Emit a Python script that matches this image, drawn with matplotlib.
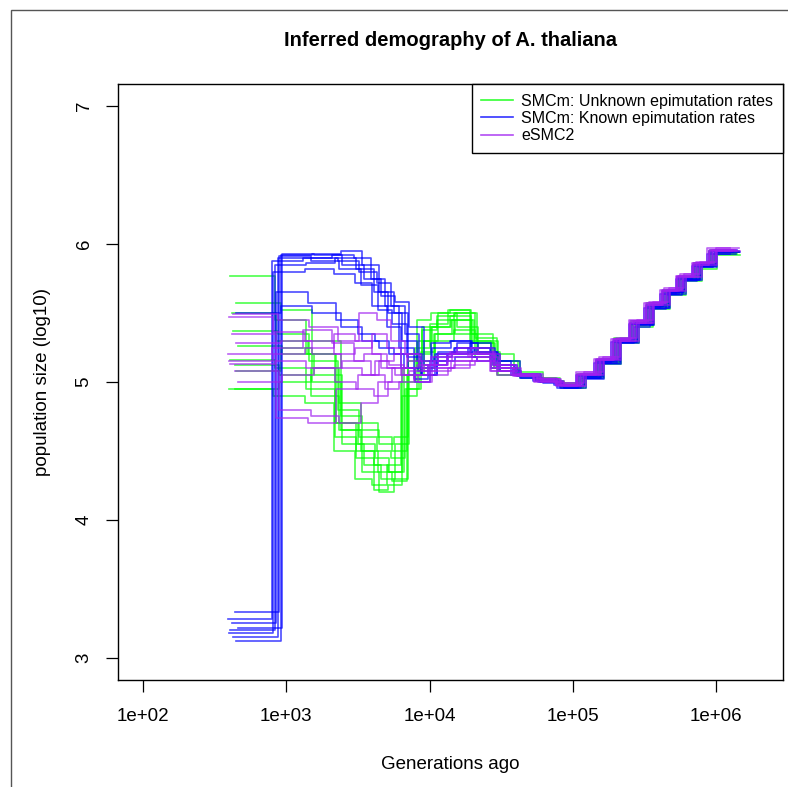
import matplotlib.pyplot as plt
from matplotlib.patches import Rectangle
import numpy as np

plt.rcParams['font.family'] = ['Liberation Sans', 'DejaVu Sans']

# time window boundaries (log10 generations ago)
breaks_log10 = [2.62, 2.93, 3.15, 3.35, 3.50, 3.62, 3.72, 3.82, 3.92, 4.02, 4.15, 4.30, 4.45,
                4.60, 4.75, 4.90, 5.05, 5.18, 5.30, 5.42, 5.53, 5.64, 5.75, 5.86, 5.97, 6.13]

# SMCm: unknown epimutation rates (log10 Ne per window)
green_runs = [
    [5.77, 5.45, 5.20, 4.70, 4.45, 4.22, 4.25, 5.10, 5.45, 5.50, 5.52, 5.35, 5.20, 5.06, 5.02, 4.98, 5.05, 5.16, 5.30, 5.42, 5.55, 5.66, 5.75, 5.85, 5.95],
    [5.57, 5.52, 5.30, 4.65, 4.35, 4.20, 4.30, 5.20, 5.40, 5.48, 5.50, 5.30, 5.15, 5.05, 5.00, 4.97, 5.04, 5.14, 5.29, 5.40, 5.54, 5.64, 5.74, 5.84, 5.94],
    [5.37, 5.35, 5.15, 4.80, 4.60, 4.50, 4.45, 4.95, 5.15, 5.35, 5.45, 5.28, 5.10, 5.04, 5.03, 4.99, 5.06, 5.15, 5.31, 5.43, 5.56, 5.65, 5.76, 5.83, 5.93],
    [5.26, 5.20, 5.05, 4.55, 4.40, 4.30, 4.55, 5.05, 5.30, 5.50, 5.40, 5.22, 5.08, 5.07, 5.01, 4.96, 5.03, 5.13, 5.28, 5.41, 5.53, 5.63, 5.73, 5.82, 5.92],
    [5.16, 5.10, 4.95, 4.60, 4.50, 4.40, 4.35, 4.90, 5.20, 5.40, 5.48, 5.25, 5.12, 5.05, 5.02, 4.98, 5.05, 5.17, 5.32, 5.44, 5.57, 5.67, 5.77, 5.86, 5.96],
    [5.08, 5.25, 5.00, 4.75, 4.65, 4.55, 4.60, 5.15, 5.38, 5.45, 5.35, 5.20, 5.05, 5.03, 5.00, 4.97, 5.04, 5.15, 5.30, 5.42, 5.55, 5.65, 5.75, 5.84, 5.94],
    [4.95, 4.90, 4.85, 4.50, 4.30, 4.25, 4.40, 5.00, 5.25, 5.42, 5.52, 5.30, 5.10, 5.06, 5.03, 4.99, 5.06, 5.16, 5.29, 5.41, 5.54, 5.64, 5.74, 5.85, 5.95],
    [4.95, 5.00, 5.10, 4.85, 4.70, 4.60, 4.50, 5.05, 5.10, 5.30, 5.38, 5.18, 5.05, 5.04, 5.01, 4.96, 5.03, 5.14, 5.30, 5.43, 5.55, 5.66, 5.76, 5.86, 5.94],
    [5.50, 5.30, 5.20, 4.70, 4.55, 4.45, 4.35, 5.10, 5.30, 5.40, 5.45, 5.28, 5.10, 5.05, 5.02, 4.98, 5.05, 5.15, 5.31, 5.42, 5.55, 5.65, 5.75, 5.84, 5.95],
    [5.12, 5.05, 4.90, 4.65, 4.50, 4.35, 4.28, 4.95, 5.22, 5.35, 5.50, 5.32, 5.15, 5.06, 5.01, 4.97, 5.04, 5.16, 5.30, 5.42, 5.56, 5.64, 5.75, 5.85, 5.93],
]
green_shift = [-0.01, 0.03, 0.01, 0.04, -0.01, 0.03, -0.02, 0.02, 0.00, 0.02]

# SMCm: known epimutation rates
blue_runs = [
    [3.12, 5.92, 5.93, 5.95, 5.85, 5.65, 5.50, 5.20, 5.05, 5.20, 5.25, 5.22, 5.15, 5.06, 5.01, 4.97, 5.04, 5.15, 5.29, 5.42, 5.55, 5.65, 5.74, 5.84, 5.94],
    [3.15, 5.90, 5.90, 5.88, 5.80, 5.72, 5.55, 5.35, 5.10, 5.18, 5.22, 5.25, 5.12, 5.04, 5.00, 4.96, 5.03, 5.14, 5.28, 5.40, 5.53, 5.63, 5.73, 5.83, 5.93],
    [3.18, 5.80, 5.82, 5.78, 5.72, 5.55, 5.40, 5.10, 5.00, 5.15, 5.20, 5.28, 5.10, 5.05, 5.02, 4.98, 5.05, 5.16, 5.30, 5.43, 5.56, 5.66, 5.76, 5.85, 5.95],
    [3.22, 5.93, 5.92, 5.85, 5.75, 5.62, 5.58, 5.40, 5.12, 5.22, 5.28, 5.20, 5.08, 5.03, 4.99, 4.96, 5.02, 5.13, 5.28, 5.41, 5.54, 5.64, 5.74, 5.83, 5.94],
    [3.25, 5.65, 5.57, 5.45, 5.35, 5.30, 5.20, 5.10, 5.08, 5.25, 5.30, 5.18, 5.12, 5.06, 5.02, 4.97, 5.04, 5.15, 5.30, 5.42, 5.55, 5.65, 5.75, 5.85, 5.95],
    [3.28, 5.88, 5.90, 5.92, 5.90, 5.75, 5.55, 5.25, 5.02, 5.12, 5.20, 5.25, 5.15, 5.05, 5.01, 4.98, 5.05, 5.14, 5.29, 5.42, 5.54, 5.64, 5.75, 5.84, 5.93],
    [3.33, 5.91, 5.88, 5.82, 5.70, 5.52, 5.42, 5.18, 5.05, 5.20, 5.25, 5.22, 5.10, 5.04, 5.00, 4.97, 5.03, 5.16, 5.31, 5.43, 5.56, 5.65, 5.74, 5.85, 5.96],
    [3.20, 5.85, 5.86, 5.90, 5.82, 5.65, 5.50, 5.30, 5.15, 5.28, 5.30, 5.20, 5.12, 5.05, 5.01, 4.96, 5.04, 5.15, 5.30, 5.42, 5.55, 5.64, 5.76, 5.84, 5.94],
    [5.50, 5.55, 5.50, 5.40, 5.30, 5.25, 5.20, 5.10, 5.05, 5.15, 5.18, 5.15, 5.08, 5.03, 5.00, 4.97, 5.03, 5.14, 5.29, 5.41, 5.54, 5.65, 5.75, 5.85, 5.95],
]
blue_shift = [0.03, 0.01, -0.02, 0.04, 0.00, -0.03, 0.02, -0.01, 0.03]

# eSMC2
purple_runs = [
    [5.49, 5.45, 5.40, 5.30, 5.50, 5.45, 5.30, 5.20, 5.10, 5.15, 5.20, 5.22, 5.12, 5.06, 5.02, 4.98, 5.06, 5.17, 5.31, 5.44, 5.57, 5.67, 5.77, 5.86, 5.96],
    [5.47, 5.36, 5.30, 5.20, 5.25, 5.35, 5.25, 5.10, 5.05, 5.12, 5.18, 5.20, 5.10, 5.05, 5.01, 4.97, 5.05, 5.16, 5.30, 5.43, 5.56, 5.66, 5.76, 5.85, 5.95],
    [5.28, 5.30, 5.20, 5.10, 5.05, 5.15, 5.20, 5.15, 5.08, 5.10, 5.15, 5.18, 5.08, 5.04, 5.00, 4.99, 5.07, 5.18, 5.32, 5.45, 5.58, 5.68, 5.78, 5.87, 5.97],
    [5.13, 5.15, 5.10, 5.00, 4.95, 4.90, 5.00, 5.10, 5.12, 5.18, 5.22, 5.25, 5.12, 5.06, 5.03, 4.98, 5.06, 5.16, 5.31, 5.44, 5.56, 5.66, 5.77, 5.86, 5.96],
    [5.08, 4.80, 4.75, 4.70, 4.85, 5.00, 5.10, 5.20, 5.15, 5.10, 5.12, 5.15, 5.05, 5.05, 5.02, 4.97, 5.05, 5.17, 5.30, 5.43, 5.57, 5.67, 5.76, 5.86, 5.95],
    [5.35, 4.74, 4.70, 4.95, 5.05, 5.15, 5.12, 5.05, 5.00, 5.08, 5.15, 5.20, 5.10, 5.04, 5.01, 4.98, 5.06, 5.18, 5.32, 5.44, 5.58, 5.68, 5.78, 5.87, 5.96],
    [5.20, 5.25, 5.38, 5.28, 5.15, 5.05, 4.95, 5.00, 5.05, 5.12, 5.20, 5.18, 5.08, 5.05, 5.02, 4.99, 5.07, 5.17, 5.31, 5.45, 5.57, 5.67, 5.77, 5.86, 5.97],
    [5.00, 5.05, 5.10, 5.15, 5.20, 5.10, 5.05, 5.08, 5.12, 5.20, 5.25, 5.20, 5.10, 5.06, 5.01, 4.97, 5.05, 5.16, 5.30, 5.43, 5.56, 5.66, 5.76, 5.85, 5.95],
    [5.15, 5.20, 5.25, 5.35, 5.30, 5.20, 5.10, 5.05, 5.00, 5.05, 5.10, 5.15, 5.08, 5.04, 5.00, 4.98, 5.06, 5.17, 5.31, 5.44, 5.57, 5.67, 5.77, 5.86, 5.96],
]
purple_shift = [0.01, -0.02, 0.03, -0.01, 0.02, 0.00, -0.03, 0.04, -0.02]

labels = ['SMCm: Unknown epimutation rates', 'SMCm: Known epimutation rates', 'eSMC2']
colors = ['#00FF00', '#0000FF', '#A020F0']

fig = plt.figure(figsize=(7.88, 7.87), dpi=100)
ax = fig.add_axes([118 / 788, 1 - 680 / 787, 665 / 788, 596 / 787])

# outer frame of the original figure panel
fig.patches.append(Rectangle((11 / 788, -0.1), 1.2, 1 - 10 / 787 + 0.1,
                             transform=fig.transFigure, fill=False,
                             edgecolor='#555555', linewidth=1))

b = np.array(breaks_log10)
for runs, shifts, col in [(green_runs, green_shift, colors[0]),
                          (blue_runs, blue_shift, colors[1]),
                          (purple_runs, purple_shift, colors[2])]:
    for vals, s in zip(runs, shifts):
        t = 10 ** (b + s)
        y = list(vals) + [vals[-1]]
        ax.step(t, y, where='post', color=col, alpha=0.7, linewidth=1.2)

ax.set_xscale('log')
ax.set_xlim(10 ** 1.825, 10 ** 6.468)
ax.set_ylim(2.84, 7.16)
ax.minorticks_off()
ax.set_xticks([1e2, 1e3, 1e4, 1e5, 1e6])
ax.set_xticklabels(['1e+02', '1e+03', '1e+04', '1e+05', '1e+06'])
ax.set_yticks([3, 4, 5, 6, 7])
ax.set_yticklabels(['3', '4', '5', '6', '7'], rotation=90, va='center')
ax.tick_params(length=8.3, width=0.9, labelsize=13.5)
ax.tick_params(axis='x', pad=12)
ax.tick_params(axis='y', pad=10)
for sp in ax.spines.values():
    sp.set_linewidth(1)

ax.set_xlabel('Generations ago', fontsize=13.5, labelpad=22)
ax.set_ylabel('population size (log10)', fontsize=13.5, labelpad=18)
ax.set_title('Inferred demography of A. thaliana', fontsize=14.5, fontweight='bold', pad=27)

handles = [plt.Line2D([], [], color=c, alpha=0.8, linewidth=1.2) for c in colors]
leg = ax.legend(handles, labels, loc='upper right', fontsize=11.5, frameon=True,
                fancybox=False, edgecolor='black', framealpha=1, borderaxespad=0,
                handlelength=2.0, handletextpad=0.5, labelspacing=0.15, borderpad=0.6)
leg.get_frame().set_linewidth(1)

fig.savefig('out.png', dpi=100)
